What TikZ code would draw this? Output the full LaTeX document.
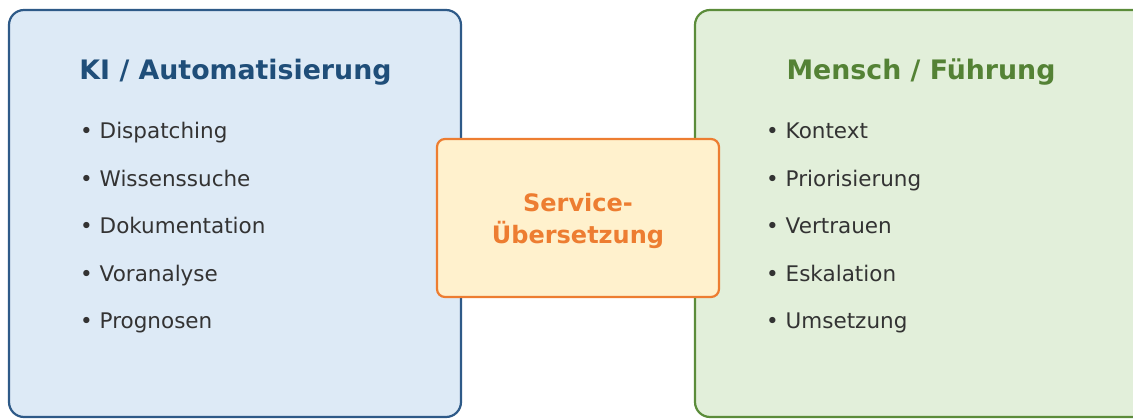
\documentclass[tikz,border=0pt]{standalone}
\usepackage{fontspec}
\setmainfont{DejaVu Sans}
\definecolor{kifill}{HTML}{DDEAF6}
\definecolor{kidraw}{HTML}{2E5A88}
\definecolor{kititle}{HTML}{1F4E79}
\definecolor{mfill}{HTML}{E2EFDA}
\definecolor{mdraw}{HTML}{5B8C3A}
\definecolor{mtitle}{HTML}{548235}
\definecolor{sfill}{HTML}{FFF1CD}
\definecolor{sdraw}{HTML}{ED7D31}
\definecolor{itemcol}{HTML}{333333}
\tikzset{
  x=1pt, y=-1pt,
  panel/.style={rounded corners=15pt, line width=2.2pt},
  ttl/.style={font=\fontsize{26.8}{32}\selectfont\bfseries, anchor=base},
  itm/.style={font=\fontsize{21.5}{26}\selectfont, text=itemcol, anchor=base west, inner sep=0pt},
  centerbox/.style={rounded corners=8pt, line width=2.2pt, draw=sdraw, fill=sfill}
}
\begin{document}
\begin{tikzpicture}
\useasboundingbox (0,0) rectangle (1133,418);
\clip (0,0) rectangle (1133,418);
\draw[panel, draw=kidraw, fill=kifill] (9,10) rectangle (461,417);
\draw[panel, draw=mdraw, fill=mfill] (695,10) rectangle (1150,417);
\node[ttl, text=kititle] (lt) at (235.5,79) {KI / Automatisierung};
\node[ttl, text=mtitle] (rt) at (921,79) {Mensch / Führung};
\foreach \t [count=\i] in {Dispatching,Wissenssuche,Dokumentation,Voranalyse,Prognosen}
  \node[itm] (l\i) at (80,{138.5+47.5*(\i-1)}) {• \t};
\foreach \t [count=\i] in {Kontext,Priorisierung,Vertrauen,Eskalation,Umsetzung}
  \node[itm] (r\i) at (766,{138.5+47.5*(\i-1)}) {• \t};
\draw[centerbox] (437,139) rectangle (719,297);
\node[font=\fontsize{24}{32}\selectfont\bfseries, text=sdraw, align=center] (c) at (578,220.5) {Service-\\Übersetzung};
\end{tikzpicture}
\end{document}
